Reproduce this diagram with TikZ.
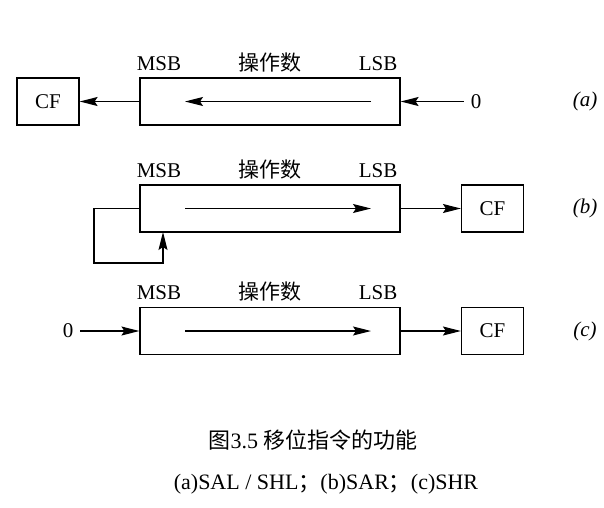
\documentclass[tikz,border=0pt]{standalone}
\usepackage{fontspec}
\setmainfont{Liberation Serif}
\newfontfamily\cjk{Noto Sans CJK SC}
\usetikzlibrary{arrows.meta}

\begin{document}
\begin{tikzpicture}[x=1pt,y=-1pt]
\tikzstyle{lien}=[-{Stealth[length=18pt,width=9pt,inset=3pt]},line width=1.2pt]
\tikzset{registre/.style={draw,line width=1.2pt,minimum width=260pt,minimum height=47pt,inner sep=0pt},
cf/.style={draw,line width=1.2pt,minimum width=62pt,minimum height=47pt,inner sep=0pt,font=\fontsize{21}{21}\selectfont},
etiquette/.style={inner sep=0pt,font=\fontsize{21}{21}\selectfont},
zero/.style={etiquette,inner xsep=7pt},
legende/.style={inner sep=0pt,font=\fontsize{22}{22}\selectfont}}
\useasboundingbox (0,0) rectangle (604,507);

% (a)
\node[registre] (A) at (270,101.5) {};
\node[cf] (A1) at (48,101.5) {CF};
\node[zero] (A2) at (476,101.5) {0};
\node[etiquette] (Ma) at (159,64) {MSB};
\node[etiquette] (Oa) at (270,63) {\cjk 操作数};
\node[etiquette] (La) at (378,64) {LSB};
\node[etiquette] (Na) at (585,101.5) {\textit{(a)}};
\coordinate (a1) at (371,101.5);
\coordinate (a2) at (185,101.5);
\draw[lien] (a1) -- (a2);
\draw[lien] (A) -- (A1);
\draw[lien] (A2) -- (A.east);

% (b)
\node[registre] (B) at (270,208.5) {};
\node[cf] (B1) at (492.5,208.5) {CF};
\node[etiquette] (Mb) at (159,171) {MSB};
\node[etiquette] (Ob) at (270,170) {\cjk 操作数};
\node[etiquette] (Lb) at (378,171) {LSB};
\node[etiquette] (Nb) at (585,208.5) {\textit{(b)}};
\coordinate (b1) at (185,208.5);
\coordinate (b2) at (371,208.5);
\coordinate (fb1) at (94,263);
\coordinate (fb2) at (163,232);
\draw[lien] (b1) -- (b2);
\draw[lien] (B) -- (B1);
\draw[lien] (B.west) -| (fb1) -| (fb2);

% (c)
\node[registre] (C) at (270,331) {};
\node[cf] (C1) at (492.5,331) {CF};
\node[zero] (C2) at (68,331) {0};
\node[etiquette] (Mc) at (159,293) {MSB};
\node[etiquette] (Oc) at (270,292) {\cjk 操作数};
\node[etiquette] (Lc) at (378,293) {LSB};
\node[etiquette] (Nc) at (585,331) {\textit{(c)}};
\coordinate (c1) at (185,331);
\coordinate (c2) at (371,331);
\draw[lien] (c1) -- (c2);
\draw[lien] (C) -- (C1);
\draw[lien] (C2) -- (C.west);

% legende
\node[legende] (T1) at (313,440) {\cjk 图\rmfamily 3.5 \cjk 移位指令的功能};
\node[legende] (T2) at (326,484) {(a)SAL / SHL{\cjk ；}(b)SAR{\cjk ；}(c)SHR};
\end{tikzpicture}
\end{document}
